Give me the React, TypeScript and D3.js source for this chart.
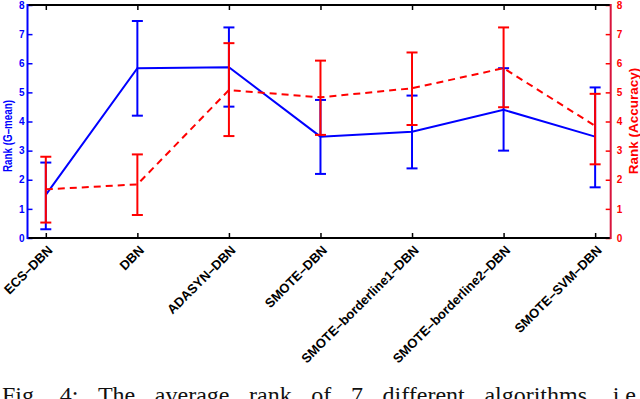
import { useEffect, useRef } from "react";
import * as d3 from "d3";

const algorithms = [
  "ECS–DBN", "DBN", "ADASYN–DBN", "SMOTE–DBN",
  "SMOTE–borderline1–DBN", "SMOTE–borderline2–DBN", "SMOTE–SVM–DBN"
];
// G-mean rank (left axis, blue)
const gmeanRank = [1.48, 5.83, 5.86, 3.48, 3.65, 4.4, 3.48];
const gmeanLow = [0.3, 4.2, 4.51, 2.2, 2.39, 3.0, 1.74];
const gmeanHigh = [2.59, 7.45, 7.23, 4.74, 4.89, 5.83, 5.17];
// Accuracy rank (right axis, red)
const accRank = [1.67, 1.84, 5.08, 4.83, 5.14, 5.83, 3.85];
const accLow = [0.53, 0.79, 3.5, 3.54, 3.88, 4.49, 2.53];
const accHigh = [2.79, 2.87, 6.69, 6.09, 6.37, 7.23, 4.95];
const rankTicks = [0, 1, 2, 3, 4, 5, 6, 7, 8];
const caption = "Fig. 4: The average rank of 7 different algorithms, i.e.";

const BLUE = "#0000ff";
const RED = "#ff0000";
const FONT = "'Liberation Sans', Arial, sans-serif";

export default function App() {
  const ref = useRef<SVGSVGElement>(null);

  useEffect(() => {
    const w = 640, h = 399;
    const m = { top: 5, right: 29.3, bottom: 161, left: 27.5 };
    const svg = d3.select(ref.current!);
    svg.selectAll("*").remove();

    const idx = algorithms.map((_, i) => i + 1);
    const x = d3.scaleLinear().domain([0.8, 7.17]).range([m.left, w - m.right]);
    const y = d3.scaleLinear().domain([0, 8]).range([h - m.bottom, m.top]);
    const x0 = m.left, x1 = w - m.right, y0 = h - m.bottom, y1 = m.top;

    // series: line + error bars
    const drawSeries = (vals: number[], lo: number[], hi: number[], color: string, dash: string | null) => {
      const g = svg.append("g");
      const line = d3.line<number>().x((_, i) => x(idx[i])).y((d) => y(d));
      g.append("path")
        .datum(vals)
        .attr("d", line)
        .attr("fill", "none")
        .attr("stroke", color)
        .attr("stroke-width", 2)
        .attr("stroke-dasharray", dash);
      const eb = g.selectAll("g.eb").data(vals).join("g").attr("class", "eb");
      eb.append("line")
        .attr("x1", (_, i) => x(idx[i])).attr("x2", (_, i) => x(idx[i]))
        .attr("y1", (_, i) => y(lo[i])).attr("y2", (_, i) => y(hi[i]));
      eb.append("line")
        .attr("x1", (_, i) => x(idx[i]) - 5.5).attr("x2", (_, i) => x(idx[i]) + 5.5)
        .attr("y1", (_, i) => y(lo[i])).attr("y2", (_, i) => y(lo[i]));
      eb.append("line")
        .attr("x1", (_, i) => x(idx[i]) - 5.5).attr("x2", (_, i) => x(idx[i]) + 5.5)
        .attr("y1", (_, i) => y(hi[i])).attr("y2", (_, i) => y(hi[i]));
      eb.selectAll("line").attr("stroke", color).attr("stroke-width", 2);
    };
    drawSeries(gmeanRank, gmeanLow, gmeanHigh, BLUE, null);
    drawSeries(accRank, accLow, accHigh, RED, "7,5");

    const styleAxis = (g: any, color: string) => {
      g.select(".domain").remove();
      g.selectAll("line").attr("stroke", color).attr("stroke-width", 1.5);
      g.selectAll("text")
        .attr("fill", color)
        .attr("font-family", FONT)
        .attr("font-weight", "bold")
        .attr("font-size", 10);
    };

    // bottom / top x ticks (inward)
    const bx = svg.append("g").attr("transform", `translate(0,${y0})`)
      .call(d3.axisBottom(x).tickValues(idx).tickSize(-5).tickFormat(() => ""));
    styleAxis(bx, "#000");
    const tx = svg.append("g").attr("transform", `translate(0,${y1})`)
      .call(d3.axisTop(x).tickValues(idx).tickSize(-5).tickFormat(() => ""));
    styleAxis(tx, "#000");

    // left axis (G-mean)
    const ly = svg.append("g").attr("transform", `translate(${x0},0)`)
      .call(d3.axisLeft(y).tickValues(rankTicks).tickSize(-5).tickPadding(3).tickFormat(d3.format("d")));
    styleAxis(ly, BLUE);
    // right axis (Accuracy)
    const ry = svg.append("g").attr("transform", `translate(${x1},0)`)
      .call(d3.axisRight(y).tickValues(rankTicks).tickSize(-5).tickPadding(6).tickFormat(d3.format("d")));
    styleAxis(ry, RED);

    // box lines
    svg.append("line").attr("x1", x0).attr("x2", x1).attr("y1", y0).attr("y2", y0)
      .attr("stroke", "#000").attr("stroke-width", 2);
    svg.append("line").attr("x1", x0).attr("x2", x1).attr("y1", y1).attr("y2", y1)
      .attr("stroke", "#000").attr("stroke-width", 2);
    svg.append("line").attr("x1", x0).attr("x2", x0).attr("y1", y0 + 1).attr("y2", y1 - 1)
      .attr("stroke", BLUE).attr("stroke-width", 2);
    svg.append("line").attr("x1", x1).attr("x2", x1).attr("y1", y0 + 1).attr("y2", y1 - 1)
      .attr("stroke", "#d8143c").attr("stroke-width", 2);

    // x tick labels, rotated
    svg.append("g").selectAll("text").data(algorithms).join("text")
      .attr("transform", (_, i) => `translate(${x(idx[i]) + 7.5},${y0 + 13}) rotate(-45)`)
      .attr("text-anchor", "end")
      .attr("font-family", FONT)
      .attr("font-weight", "bold")
      .attr("font-size", 13)
      .attr("fill", "#000")
      .text((d) => d);

    // axis titles
    svg.append("text")
      .attr("transform", `translate(12,136) rotate(-90)`)
      .attr("text-anchor", "middle")
      .attr("font-family", FONT).attr("font-weight", "bold").attr("font-size", 12.5)
      .attr("textLength", 72).attr("lengthAdjust", "spacingAndGlyphs")
      .attr("fill", BLUE)
      .text("Rank (G–mean)");
    svg.append("text")
      .attr("transform", `translate(638,121) rotate(-90)`)
      .attr("text-anchor", "middle")
      .attr("font-family", FONT).attr("font-weight", "bold").attr("font-size", 13.5)
      .attr("fill", RED)
      .text("Rank (Accuracy)");

    // caption, justified across the width
    const words = caption.split(" ");
    const cap = svg.append("g")
      .attr("font-family", "'Liberation Serif', 'Times New Roman', serif")
      .attr("font-size", 24)
      .attr("fill", "#111");
    const nodes = words.map((wd) => cap.append("text").attr("y", 403).text(wd));
    const widths = nodes.map((n) => (n.node() as SVGTextElement).getComputedTextLength());
    const left = 2, right = 642;
    const gap = (right - left - d3.sum(widths)) / (words.length - 1);
    let cx = left;
    nodes.forEach((n, i) => {
      n.attr("x", cx);
      cx += widths[i] + gap;
    });
  }, []);

  return (
    <div style={{ position: "absolute", left: 0, top: 0, width: 640, height: 399, overflow: "hidden", background: "#fff" }}>
      <svg ref={ref} width={640} height={399} style={{ display: "block" }} />
    </div>
  );
}
